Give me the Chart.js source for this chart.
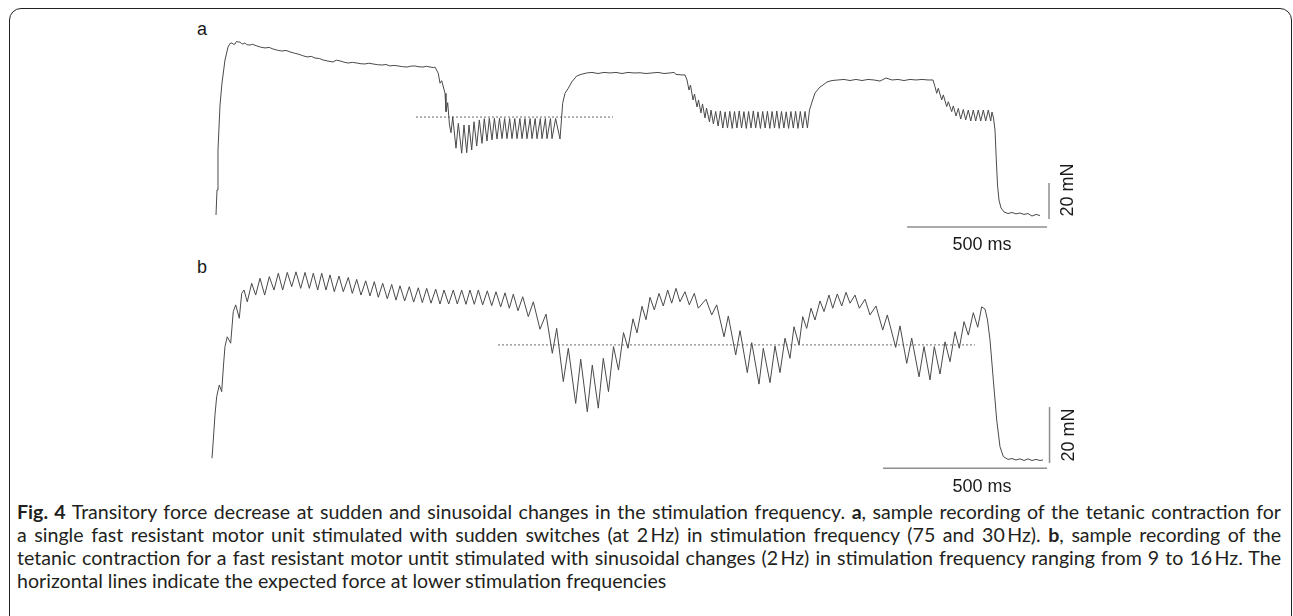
<!DOCTYPE html>
<html>
<head>
<meta charset="utf-8">
<script src="https://cdn.jsdelivr.net/npm/chart.js@4.4.1/dist/chart.umd.min.js"></script>
<style>
  body { margin: 0; width: 1293px; height: 616px; background: #fff; overflow: hidden; position: relative;
         font-family: "Liberation Sans", Arial, sans-serif; color: #1a1a1a; }
  .frame { position: absolute; left: 9px; top: 8px; width: 1283px; height: 700px; box-sizing: border-box;
           border: 1.5px solid #222; border-radius: 12px; }
  canvas { position: absolute; }
  #chartA { left: 195px; top: 15px; }
  #chartB { left: 195px; top: 250px; }
  .panel { position: absolute; font-size: 18px; line-height: 18px; }
  .caption { position: absolute; left: 17px; top: 500px; width: 1264px; font-family: Lato, "Open Sans", sans-serif;
             font-size: 19.6px; line-height: 23px; color: #231f20; }
  .caption div { text-align: justify; text-align-last: justify; white-space: nowrap; }
  .caption div.last { text-align: left; text-align-last: left; }
</style>
</head>
<body>
<div class="frame"></div>
<div class="panel" style="left:197px; top:20px">a</div>
<div class="panel" style="left:197px; top:258px">b</div>
<canvas id="chartA" width="885" height="243"></canvas>
<canvas id="chartB" width="885" height="250"></canvas>
<div class="caption">
  <div><b>Fig. 4</b> Transitory force decrease at sudden and sinusoidal changes in the stimulation frequency. <b>a</b>, sample recording of the tetanic contraction for</div>
  <div>a single fast resistant motor unit stimulated with sudden switches (at 2&thinsp;Hz) in stimulation frequency (75 and 30&thinsp;Hz). <b>b</b>, sample recording of the</div>
  <div>tetanic contraction for a fast resistant motor untit stimulated with sinusoidal changes (2&thinsp;Hz) in stimulation frequency ranging from 9 to 16&thinsp;Hz. The</div>
  <div class="last">horizontal lines indicate the expected force at lower stimulation frequencies</div>
</div>
<script>
/* -----------------------------
   DATOS  (tiempo en ms, fuerza en mN)
----------------------------- */

// a: 75 Hz tetanus, then sudden switches 75 / 30 Hz
const aTetanus75 = [[0,0],[3.6,13.9],[7.1,36.1],[14.3,61.1],[21.4,73.3],[32.1,86.1],[42.9,93.3],[50,95.3],[57.1,95.6],[62,94.8],[67.9,95.0],[73,96.4],[78.6,96.1],[85.7,96.1],[91,95.2],[96.4,95.0],[103.6,95.6],[110,94.6],[121.4,94.4],[130,94.8],[146.4,93.9],[160,93.2],[175,92.8],[190,93.1],[203.6,92.2],[220,91.5],[235.7,91.1],[250,91.4],[264.3,90.6],[280,89.9],[292.9,89.4],[310,88.5],[325,87.8],[340,88.1],[353.6,87.2],[370,86.9],[382.1,86.1],[400,85.5],[417.9,85.0],[430,86.0],[442.9,85.6],[457,84.9],[471.4,84.4],[487,84.8],[503.6,84.4],[518,84.0],[532.1,83.9],[546,84.3],[560.7,83.9],[577,83.5],[592.9,83.3],[607,83.6],[621.4,82.8],[636,83.1],[650,82.8],[666,82.4],[682.1,82.2],[696,82.7],[710.7,82.8],[725,82.3],[739.3,82.2],[752,82.6],[764.3,82.2],[776,81.9],[782.1,82.2]];
const aSwitch30First = [[793.9,78.7],[800,73.2],[806.1,74.6],[817.9,67.6],[821.4,57.4],[827.5,62.4],[833.9,50.0],[839.3,45.7],[845.4,54.6],[857.1,37.1],[865.4,50.9],[877.5,34.3],[885.7,50.0],[895.4,34.6],[903.6,50.0],[913.2,36.1],[921.4,51.8],[931.1,38.3],[940.4,52.8],[950,39.8],[958.2,53.5],[967.9,41.1],[976.1,53.7],[985.7,41.7],[994.3,53.7],[1003.6,42.2],[1012.5,53.7],[1021.4,42.4],[1030.7,53.6],[1039.3,42.4],[1048.9,53.6],[1057.1,42.4],[1067.1,53.6],[1075,42.4],[1085.4,53.6],[1092.9,42.4],[1103.6,53.6],[1110.7,42.4],[1121.8,53.6],[1128.6,42.4],[1140,53.6],[1146.4,42.4],[1158.2,53.6],[1164.3,42.4],[1176.4,53.6],[1182.1,42.4],[1194.6,53.6],[1200,42.4],[1212.9,53.6],[1228.6,42.2]];
const aBack75First = [[1238.2,62.1],[1246.4,67.6],[1258.2,70.4],[1270.4,73.9],[1288.2,77.2],[1303.6,78.1],[1323.9,78.9],[1342.9,79.2],[1364.3,78.6],[1385.7,79.2],[1407.1,78.9],[1428.6,79.2],[1450,78.6],[1471.4,79.2],[1492.9,78.9],[1514.3,79.0],[1535.7,78.6],[1557.1,78.9],[1578.6,79.2],[1600,78.6],[1621.4,78.9],[1635.7,79.2],[1642.9,78.1],[1664.3,77.8],[1675,77.8]];
const aSwitch30Second = [[1682.1,75],[1689.3,69.4],[1694.6,72.2],[1703.6,63.9],[1708.9,67.2],[1717.9,60],[1723.2,63.9],[1732.1,56.7],[1737.5,61.7],[1746.4,53.9],[1751.8,59.4],[1762.5,51.7],[1767.9,58.3],[1776.4,50.6],[1784.6,57.5],[1793.2,49.4],[1801.4,57.8],[1810,48.3],[1818.2,57.3],[1826.8,48.3],[1835,57.6],[1843.6,48.1],[1851.8,57.5],[1860.4,48.3],[1868.6,57.8],[1877.1,48.3],[1885.4,57.4],[1893.9,48.1],[1902.1,57.5],[1910.7,48.3],[1918.9,57.8],[1927.5,48.3],[1935.7,57.3],[1944.3,48.1],[1952.5,57.5],[1961.1,48.3],[1969.3,57.6],[1977.9,48.1],[1986.1,57.5],[1994.6,48.3],[2002.9,57.8],[2011.4,48.1],[2019.6,57.5],[2028.2,48.3],[2036.4,57.3],[2045,48.1],[2053.2,57.5],[2061.8,48.3],[2070,57.6],[2078.6,48.1],[2086.8,57.5],[2095.4,48.3],[2103.6,57.5],[2112.1,48.3]];
const aBack75Second = [[2119.6,58.3],[2127.5,62.2],[2139.3,67.8],[2157.1,71.1],[2167.9,72.2],[2182.1,73.9],[2200,74.7],[2221.4,75],[2242.9,75.3],[2264.3,74.7],[2285.7,75.3],[2307.1,74.7],[2328.6,75.3],[2350,75],[2371.4,74.4],[2392.9,76.1],[2414.3,75],[2435.7,75.3],[2457.1,74.7],[2478.6,75.3],[2500,75],[2521.4,75.3],[2542.9,75],[2560.7,75]];
const aSwitch30Relax = [[2567.9,71.3],[2573.9,67.6],[2579.6,70.4],[2591.8,63.9],[2597.5,66.7],[2609.6,60.2],[2615.4,62.9],[2627.5,57.4],[2633.2,60.6],[2642.9,55.0],[2651.1,59.2],[2659.6,53.3],[2668.9,58.6],[2677.5,52.8],[2686.8,58.3],[2695.4,52.2],[2704.6,58.3],[2713.2,52.2],[2722.5,58.3],[2731.1,52.2],[2740.4,58.3],[2748.9,52.2],[2758.2,58.3],[2766.8,52.2],[2771.4,57.2],[2776.8,53.9],[2782.1,47.2],[2786.8,30.6],[2791.1,16.7],[2796.4,8.3],[2803.6,3.9],[2814.3,1.7],[2828.6,0.8],[2842.9,1.4],[2857.1,0.6],[2871.4,1.1],[2885.7,0.3],[2900,0.8],[2914.3,-0.6],[2928.6,0.3],[2942.9,-0.3]];
const aExpected = [[714.3,54.4],[1417.9,54.4]];      // expected force at 30 Hz
const aTimeBar = [[2468,-6.7],[2968,-6.7]];          // 500 ms
const aForceBar = [[2975,-2.2],[2975,17.8]];         // 20 mN

// b: sinusoidal frequency changes 9-16 Hz
const bRise = [[0,0.6],[4,7.1],[9.1,16.1],[14.3,22.6],[22.3,26.8],[29.6,24.4],[35.1,33.9],[39.6,40.5],[46.6,44.0],[57,41.7],[64.9,53.0],[72.3,55.4],[83.2,50.6],[90.6,59.5],[97.6,60.7],[107.6,56.5],[121,63.1],[133.2,58.9],[146.4,64.9]];
const bFused = [[160.6,58.9],[174.8,65.5],[189,60.7],[202.2,66.7],[215.5,60.7],[229.6,67.0],[243,61.9],[256.1,67.2],[270.4,61.3],[283.6,67.0],[296.8,61.3],[308.9,66.7],[322.3,60.7],[334.5,66.7],[347.6,60.7],[359.8,66.1],[373,60.1],[387.2,65.7],[400.3,60.1],[415.6,65.2],[427.8,59.5],[441.2,64.5],[454.3,58.9],[468.6,64.0],[481.7,58.6],[494.9,63.7],[507.1,58.1],[520.5,63.1],[534.5,57.6],[547.9,62.7],[561,57.1],[573.2,62.2],[587.5,56.8],[601.6,61.9],[614.9,56.4],[629,61.5],[641.3,56.2],[654.6,61.3],[667.8,56.0],[682.1,61.0],[695.2,55.7],[707.4,60.7],[721.7,55.7],[735.7,60.7],[747.9,55.7],[761.3,60.7],[774.4,55.6],[786.6,60.7],[799.8,55.6],[812,60.7],[825.3,55.4],[839.4,60.4],[852.8,55.1],[865.9,60.1],[880.2,54.7],[893.4,59.7],[906.5,54.2],[918.7,59.2],[933,53.3],[947.4,58.3],[964.4,51.2],[979.7,56.5]];
const bSine = [[1000.1,46.7],[1018.4,52.1],[1037.6,38.1],[1051,47.0],[1071.1,28.0],[1086.4,39.9],[1108.9,20.2],[1124.2,36.0],[1144.3,17.2],[1159.5,33.9],[1177.8,18.5],[1193.1,36.3],[1208.9,24.4],[1224.2,40.5],[1239.4,32.1],[1254.7,45.5],[1268.4,39.9],[1283.6,50.4],[1295.8,45.4],[1311.1,54.9],[1323.3,50.1],[1335.5,58.1],[1348.6,53.6],[1362.9,59.5],[1376,55.0],[1389.4,60.7],[1401.6,56.0],[1414.7,61.3],[1426.9,56.5],[1442.2,60.1],[1455.3,55.4],[1470.5,59.5],[1482.7,54.2],[1506.2,57.4],[1523.6,51.8],[1538.8,55.4],[1561.1,44.0],[1574.2,51.4],[1596.8,37.5],[1609.9,46.2],[1632.1,31.2],[1645.6,41.9],[1667.8,27.1],[1680.9,39.9],[1701.3,27.6],[1716.6,40.7],[1731.8,31.2],[1747.1,43.5],[1762.3,36.3],[1774.5,47.6],[1789.8,41.1],[1801.1,51.2],[1813.2,47.0],[1826.4,54.2],[1838.5,50.0],[1853.8,56.8],[1866,53.0],[1881.2,58.9],[1892.5,54.2],[1906.5,59.3],[1920,55.0],[1933.1,59.9],[1945.3,56.0],[1960.5,58.9],[1973.6,54.2],[1991,57.4],[2006.2,51.8],[2024.5,55.0],[2045,46.4],[2059,51.8],[2084.6,40.2],[2097.7,47.9],[2118.2,34.5],[2133.4,43.5],[2155.7,29.7],[2170.9,40.5],[2189.2,28.6],[2202.3,40.5],[2219.7,30.7],[2234.9,42.2],[2250.2,35.1],[2265.4,45.8],[2278.5,39.9],[2292.9,49.4],[2306,44.6],[2321.2,52.6],[2334.7,47.4],[2346.8,54.7]];
const bRelax = [[2356.9,53.9],[2364.5,50.0],[2372.1,42.9],[2382.2,28.6],[2392.5,14.3],[2402.6,4.7],[2412.7,1.2],[2427,0.2],[2439.2,0.5],[2451.4,0],[2463.6,0.4],[2475.8,-0.2],[2488,0.4],[2500.2,-0.2],[2512.4,0.2],[2524.6,-0.2],[2533.7,0]];
const bExpected = [[872,41.1],[2326.4,41.1]];
const bTimeBar = [[2046,-3.0],[2546,-3.0]];
const bForceBar = [[2553.6,-1.1],[2553.6,18.9]];

const traceA = [].concat(aTetanus75, aSwitch30First, aBack75First, aSwitch30Second, aBack75Second, aSwitch30Relax);
const traceB = [].concat(bRise, bFused, bSine, bRelax);

/* -----------------------------
   ETIQUETAS DE LAS BARRAS DE ESCALA
----------------------------- */
const scaleBarLabels = {
    id: "scaleBarLabels",
    afterDatasetsDraw(chart, args, opts) {
        const { ctx, scales: { x, y } } = chart;
        const tb = opts.timeBar, fb = opts.forceBar;
        ctx.save();
        ctx.fillStyle = "#1a1a1a";
        ctx.font = '18px "Liberation Sans", Arial, sans-serif';
        ctx.textAlign = "center";
        ctx.textBaseline = "alphabetic";

        const tx = (x.getPixelForValue(tb[0][0]) + x.getPixelForValue(tb[1][0])) / 2;
        ctx.fillText("500 ms", tx + opts.timeDx, y.getPixelForValue(tb[0][1]) + opts.timeDy);

        const fx = x.getPixelForValue(fb[0][0]);
        const fy = (y.getPixelForValue(fb[0][1]) + y.getPixelForValue(fb[1][1])) / 2;
        ctx.translate(fx + 24, fy + opts.forceDy);
        ctx.rotate(-Math.PI / 2);
        ctx.fillText("20 mN", 0, 0);
        ctx.restore();
    }
};

function linea(points, color, width, dash) {
    return {
        data: points.map(([t, f]) => ({ x: t, y: f })),
        borderColor: color,
        borderWidth: width,
        borderDash: dash || [],
        pointRadius: 0,
        tension: 0,
        fill: false
    };
}

function crearPanel(id, trace, expected, timeBar, forceBar, xRange, yRange, labelOpts) {
    return new Chart(document.getElementById(id), {
        type: "line",
        data: {
            datasets: [
                linea(trace, "#4a4a4a", 1),
                linea(expected, "#6a6a6a", 1, [2, 2]),
                linea(timeBar, "#8e8e8e", 1.5),
                linea(forceBar, "#8e8e8e", 1.5)
            ]
        },
        options: {
            responsive: false,
            animation: false,
            events: [],
            layout: { padding: 0 },
            plugins: {
                legend: { display: false },
                tooltip: { enabled: false },
                scaleBarLabels: Object.assign({ timeBar, forceBar }, labelOpts)
            },
            scales: {
                x: { type: "linear", display: false, min: xRange[0], max: xRange[1] },
                y: { type: "linear", display: false, min: yRange[0], max: yRange[1] }
            }
        },
        plugins: [scaleBarLabels]
    });
}

crearPanel("chartA", traceA, aExpected, aTimeBar, aForceBar, [-75, 3085.7], [-23.9, 111.1],
    { timeDx: 5, timeDy: 22.5, forceDy: -11 });
crearPanel("chartB", traceB, bExpected, bTimeBar, bForceBar, [-51.8, 2646.5], [-14.3, 75.0],
    { timeDx: 17, timeDy: 23.5, forceDy: 0 });
</script>
</body>
</html>
